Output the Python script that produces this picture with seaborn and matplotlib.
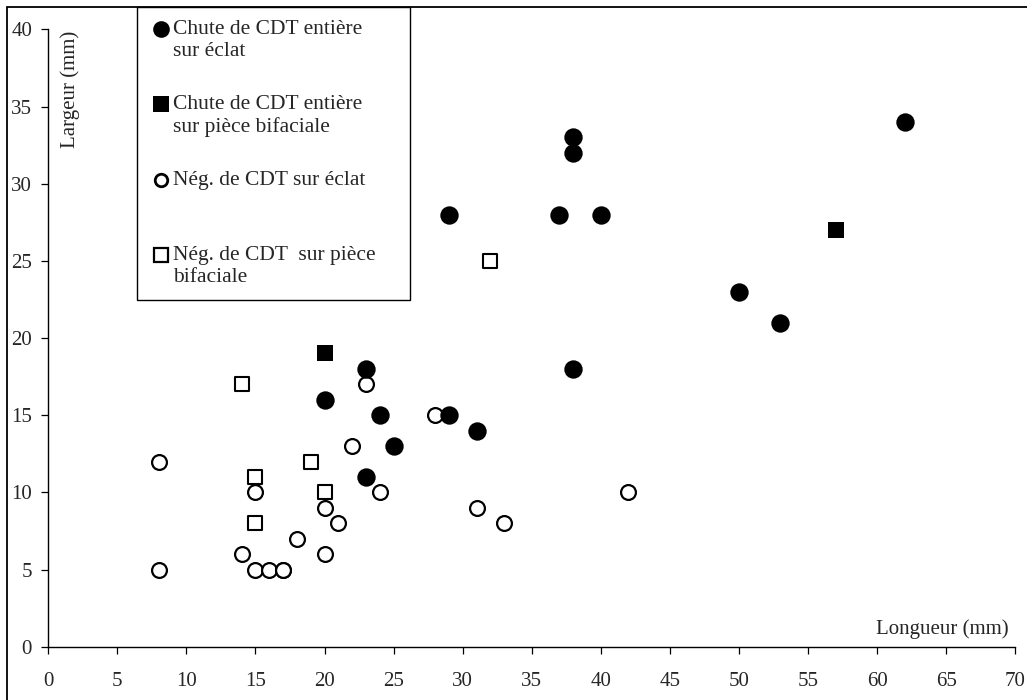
import seaborn as sns
import matplotlib.pyplot as plt
from matplotlib.lines import Line2D
from matplotlib.patches import Rectangle

# Longueur / largeur (mm) par catégorie
chute_eclat_x = [38, 38, 62, 29, 37, 40, 50, 53, 23, 38, 20, 24, 29, 31, 25, 23]
chute_eclat_y = [33, 32, 34, 28, 28, 28, 23, 21, 18, 18, 16, 15, 15, 14, 13, 11]

chute_biface_x = [20, 57]
chute_biface_y = [19, 27]

neg_eclat_x = [8, 8, 14, 15, 16, 17, 17, 15, 18, 20, 20, 21, 22, 23, 24, 28, 31, 33, 42]
neg_eclat_y = [12, 5, 6, 5, 5, 5, 5, 10, 7, 9, 6, 8, 13, 17, 10, 15, 9, 8, 10]

neg_biface_x = [14, 15, 15, 19, 20, 32]
neg_biface_y = [17, 11, 8, 12, 10, 25]

legend_labels = ["Chute de CDT entière\nsur éclat",
                 "Chute de CDT entière\nsur pièce bifaciale",
                 "Nég. de CDT sur éclat\n ",
                 "Nég. de CDT  sur pièce\nbifaciale"]

x_ticks = list(range(0, 75, 5))
y_ticks = list(range(0, 45, 5))

sns.set_style("white")
plt.rcParams['font.family'] = ['Liberation Serif', 'DejaVu Serif']
plt.rcParams['font.size'] = 15

fig = plt.figure(figsize=(10.27, 7), dpi=100)
ax = fig.add_axes([0.047, 0.0761, 0.9416, 0.882])

# ordre de tracé : carrés vides, ronds vides, ronds pleins, carrés pleins
sns.scatterplot(x=neg_biface_x, y=neg_biface_y, marker='s', s=112,
                color='white', edgecolor='black', linewidth=1.5, ax=ax)
sns.scatterplot(x=neg_eclat_x, y=neg_eclat_y, marker='o', s=114,
                color='white', edgecolor='black', linewidth=1.6, ax=ax)
sns.scatterplot(x=chute_eclat_x, y=chute_eclat_y, marker='o', s=175,
                color='black', edgecolor='black', linewidth=0, ax=ax)
sns.scatterplot(x=chute_biface_x, y=chute_biface_y, marker='s', s=128,
                color='black', edgecolor='black', linewidth=0, ax=ax)

ax.set_xlim(0, 70)
ax.set_ylim(0, 40)
ax.set_xticks(x_ticks)
ax.set_yticks(y_ticks)

for side in ['top', 'right']:
    ax.spines[side].set_visible(False)
for side in ['left', 'bottom']:
    ax.spines[side].set_color('black')
    ax.spines[side].set_linewidth(1.0)

ax.tick_params(axis='x', direction='out', length=5, width=0.9, color='black', pad=13,
               bottom=True, labelsize=15)
ax.tick_params(axis='y', direction='out', length=4.7, width=0.9, color='black', pad=7,
               left=True, labelsize=15)

ax.set_xlabel('Longueur (mm)', ha='right', va='center', fontsize=15)
ax.xaxis.set_label_coords(0.993, 0.028)
ax.set_ylabel('Largeur (mm)', ha='right', va='center', fontsize=15)
ax.yaxis.set_label_coords(0.023, 0.997)

handles = [
    Line2D([], [], ls='', marker='o', ms=12, mfc='black', mec='black', mew=0),
    Line2D([], [], ls='', marker='s', ms=11, mfc='black', mec='black', mew=0),
    Line2D([], [], ls='', marker='o', ms=9, mfc='white', mec='black', mew=2),
    Line2D([], [], ls='', marker='s', ms=9.5, mfc='white', mec='black', mew=1.6),
]
leg = ax.legend(handles, legend_labels, loc='upper left',
                bbox_to_anchor=(0.0917, 0.566, 0.2823, 0.47), mode='expand',
                borderaxespad=0, borderpad=0.62, handlelength=1.0, handleheight=1.0,
                handletextpad=0.05, labelspacing=1.62, fontsize=15.5,
                frameon=True, fancybox=False, edgecolor='black', framealpha=1)
leg.get_frame().set_linewidth(1.0)
for t in leg.get_texts():
    t.set_linespacing(1.15)
# marqueur aligné sur la première ligne du texte
for col in leg._legend_handle_box.get_children():
    for row in col.get_children():
        row.align = 'top'

# cadre extérieur
fig.patches.append(Rectangle((7 / 1027, -0.1), 1.2, 1.1 - 7 / 700, fill=False,
                             edgecolor='black', linewidth=1.3,
                             transform=fig.transFigure, figure=fig))

fig.savefig('out.png', dpi=100)
